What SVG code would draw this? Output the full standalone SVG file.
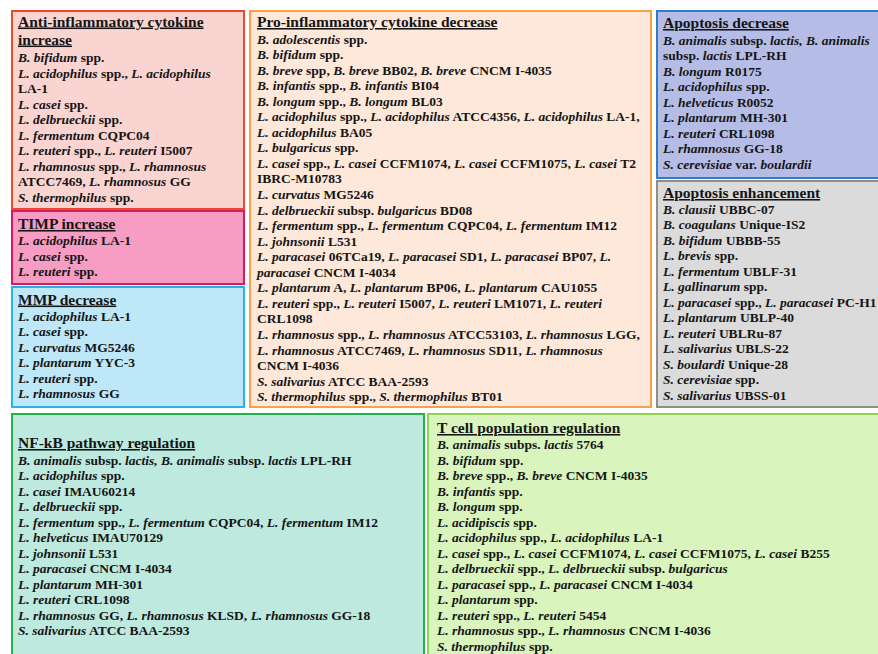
<svg xmlns="http://www.w3.org/2000/svg" width="878" height="654" viewBox="0 0 878 654">
<style>
text{font-family:"Liberation Serif","Times New Roman",serif;font-weight:bold;font-size:13.5px;fill:#151515}
.i{font-style:italic}
.t{font-size:15.5px;text-decoration:underline}
rect{stroke-width:2}
</style>
<rect width="878" height="654" fill="#ffffff"/>
<g id="anti-inflammatory">
<rect x="12" y="11" width="232" height="198" fill="#f9d4d0" stroke="#ec4a2c"/>
<text x="18" y="26.5" class="t">Anti-inflammatory cytokine</text>
<text x="18" y="44.5" class="t">increase</text>
<text x="18" y="62"><tspan class="i">B. bifidum</tspan> spp.</text>
<text x="18" y="77.5"><tspan class="i">L. acidophilus</tspan> spp., <tspan class="i">L. acidophilus</tspan></text>
<text x="18" y="93">LA-1</text>
<text x="18" y="108.5"><tspan class="i">L. casei</tspan> spp.</text>
<text x="18" y="124"><tspan class="i">L. delbrueckii</tspan> spp.</text>
<text x="18" y="139.5"><tspan class="i">L. fermentum</tspan> CQPC04</text>
<text x="18" y="155"><tspan class="i">L. reuteri</tspan> spp., <tspan class="i">L. reuteri</tspan> I5007</text>
<text x="18" y="170.5"><tspan class="i">L. rhamnosus</tspan> spp., <tspan class="i">L. rhamnosus</tspan></text>
<text x="18" y="186">ATCC7469, <tspan class="i">L. rhamnosus</tspan> GG</text>
<text x="18" y="201.5"><tspan class="i">S. thermophilus</tspan> spp.</text>
</g>
<g id="timp">
<rect x="12" y="211" width="232" height="73" fill="#f79cc2" stroke="#d71a62"/>
<text x="18" y="229" class="t">TIMP increase</text>
<text x="18" y="245"><tspan class="i">L. acidophilus</tspan> LA-1</text>
<text x="18" y="260.5"><tspan class="i">L. casei</tspan> spp.</text>
<text x="18" y="276"><tspan class="i">L. reuteri</tspan>  spp.</text>
</g>
<g id="mmp">
<rect x="12" y="287" width="232" height="120" fill="#bee7f7" stroke="#29b4e9"/>
<text x="18" y="304.5" class="t">MMP decrease</text>
<text x="18" y="320.5"><tspan class="i">L. acidophilus</tspan> LA-1</text>
<text x="18" y="336"><tspan class="i">L. casei</tspan> spp.</text>
<text x="18" y="351.5"><tspan class="i">L. curvatus</tspan> MG5246</text>
<text x="18" y="367"><tspan class="i">L. plantarum</tspan> YYC-3</text>
<text x="18" y="382.5"><tspan class="i">L. reuteri</tspan> spp.</text>
<text x="18" y="398"><tspan class="i">L. rhamnosus</tspan> GG</text>
</g>
<g id="pro-inflammatory">
<rect x="250" y="11" width="401" height="396" fill="#fde8da" stroke="#f8a14a"/>
<text x="257" y="27" class="t">Pro-inflammatory cytokine decrease</text>
<text x="257" y="43.5"><tspan class="i">B. adolescentis</tspan> spp.</text>
<text x="257" y="59"><tspan class="i">B. bifidum</tspan> spp.</text>
<text x="257" y="74.6"><tspan class="i">B. breve</tspan> spp, <tspan class="i">B. breve</tspan> BB02, <tspan class="i">B. breve</tspan> CNCM I-4035</text>
<text x="257" y="90.1"><tspan class="i">B. infantis</tspan> spp., <tspan class="i">B. infantis</tspan> BI04</text>
<text x="257" y="105.7"><tspan class="i">B. longum</tspan> spp., <tspan class="i">B. longum</tspan> BL03</text>
<text x="257" y="121.2"><tspan class="i">L. acidophilus</tspan> spp., <tspan class="i">L. acidophilus</tspan> ATCC4356, <tspan class="i">L. acidophilus</tspan> LA-1,</text>
<text x="257" y="136.8"><tspan class="i">L. acidophilus</tspan> BA05</text>
<text x="257" y="152.3"><tspan class="i">L. bulgaricus</tspan> spp.</text>
<text x="257" y="167.9"><tspan class="i">L. casei</tspan> spp., <tspan class="i">L. casei</tspan> CCFM1074, <tspan class="i">L. casei</tspan> CCFM1075, <tspan class="i">L. casei</tspan> T2</text>
<text x="257" y="183.4">IBRC-M10783</text>
<text x="257" y="199"><tspan class="i">L. curvatus</tspan> MG5246</text>
<text x="257" y="214.5"><tspan class="i">L. delbrueckii</tspan> subsp. <tspan class="i">bulgaricus</tspan> BD08</text>
<text x="257" y="230.1"><tspan class="i">L. fermentum</tspan> spp., <tspan class="i">L. fermentum</tspan> CQPC04, <tspan class="i">L. fermentum</tspan> IM12</text>
<text x="257" y="245.6"><tspan class="i">L. johnsonii</tspan> L531</text>
<text x="257" y="261.2"><tspan class="i">L. paracasei</tspan> 06TCa19, <tspan class="i">L. paracasei</tspan> SD1, <tspan class="i">L. paracasei</tspan> BP07, <tspan class="i">L.</tspan></text>
<text x="257" y="276.7"><tspan class="i">paracasei</tspan> CNCM I-4034</text>
<text x="257" y="292.3"><tspan class="i">L. plantarum</tspan> A, <tspan class="i">L. plantarum</tspan> BP06, <tspan class="i">L. plantarum</tspan> CAU1055</text>
<text x="257" y="307.8"><tspan class="i">L. reuteri</tspan> spp., <tspan class="i">L. reuteri</tspan> I5007, <tspan class="i">L. reuteri</tspan>  LM1071, <tspan class="i">L. reuteri</tspan></text>
<text x="257" y="323.4">CRL1098</text>
<text x="257" y="338.9"><tspan class="i">L. rhamnosus</tspan> spp., <tspan class="i">L. rhamnosus</tspan> ATCC53103, <tspan class="i">L. rhamnosus</tspan> LGG,</text>
<text x="257" y="354.5"><tspan class="i">L. rhamnosus</tspan> ATCC7469, <tspan class="i">L. rhamnosus</tspan> SD11, <tspan class="i">L. rhamnosus</tspan></text>
<text x="257" y="370">CNCM I-4036</text>
<text x="257" y="385.6"><tspan class="i">S. salivarius</tspan> ATCC BAA-2593</text>
<text x="257" y="401.1"><tspan class="i">S. thermophilus</tspan> spp., <tspan class="i">S. thermophilus</tspan> BT01</text>
</g>
<g id="apoptosis-decrease">
<rect x="657" y="11" width="230" height="167" fill="#b5bde6" stroke="#2e7bc6"/>
<text x="663" y="28" class="t">Apoptosis decrease</text>
<text x="663" y="44.5"><tspan class="i">B. animalis</tspan> subsp. <tspan class="i">lactis, B. animalis</tspan></text>
<text x="663" y="60">subsp. <tspan class="i">lactis</tspan> LPL-RH</text>
<text x="663" y="75.5"><tspan class="i">B. longum</tspan> R0175</text>
<text x="663" y="91"><tspan class="i">L. acidophilus</tspan> spp.</text>
<text x="663" y="106.5"><tspan class="i">L. helveticus</tspan> R0052</text>
<text x="663" y="122"><tspan class="i">L. plantarum</tspan> MH-301</text>
<text x="663" y="137.5"><tspan class="i">L. reuteri</tspan> CRL1098</text>
<text x="663" y="153"><tspan class="i">L. rhamnosus</tspan>  GG-18</text>
<text x="663" y="168.5"><tspan class="i">S. cerevisiae</tspan> var. <tspan class="i">boulardii</tspan></text>
</g>
<g id="apoptosis-enhancement">
<rect x="657" y="181" width="230" height="226" fill="#dbdbdb" stroke="#8d8d8d"/>
<text x="663" y="198" class="t">Apoptosis enhancement</text>
<text x="663" y="213.5"><tspan class="i">B. clausii</tspan> UBBC-07</text>
<text x="663" y="229"><tspan class="i">B. coagulans</tspan> Unique-IS2</text>
<text x="663" y="244.5"><tspan class="i">B. bifidum</tspan> UBBB-55</text>
<text x="663" y="260"><tspan class="i">L. brevis</tspan> spp.</text>
<text x="663" y="275.5"><tspan class="i">L. fermentum</tspan> UBLF-31</text>
<text x="663" y="291"><tspan class="i">L. gallinarum</tspan> spp.</text>
<text x="663" y="306.5"><tspan class="i">L. paracasei</tspan> spp., <tspan class="i">L. paracasei</tspan> PC-H1</text>
<text x="663" y="322"><tspan class="i">L. plantarum</tspan> UBLP-40</text>
<text x="663" y="337.5"><tspan class="i">L. reuteri</tspan> UBLRu-87</text>
<text x="663" y="353"><tspan class="i">L. salivarius</tspan> UBLS-22</text>
<text x="663" y="368.5"><tspan class="i">S. boulardi</tspan> Unique-28</text>
<text x="663" y="384"><tspan class="i">S. cerevisiae</tspan> spp.</text>
<text x="663" y="399.5"><tspan class="i">S. salivarius</tspan> UBSS-01</text>
</g>
<g id="nf-kb">
<rect x="12" y="414" width="412" height="250" fill="#bde9df" stroke="#22b24d"/>
<text x="18" y="448" class="t">NF-kB pathway regulation</text>
<text x="18" y="464.5"><tspan class="i">B. animalis</tspan> subsp. <tspan class="i">lactis, B. animalis</tspan> subsp. <tspan class="i">lactis</tspan> LPL-RH</text>
<text x="18" y="480"><tspan class="i">L. acidophilus</tspan> spp.</text>
<text x="18" y="495.5"><tspan class="i">L. casei</tspan> IMAU60214</text>
<text x="18" y="511"><tspan class="i">L. delbrueckii</tspan> spp.</text>
<text x="18" y="526.5"><tspan class="i">L. fermentum</tspan> spp., <tspan class="i">L. fermentum</tspan> CQPC04, <tspan class="i">L. fermentum</tspan> IM12</text>
<text x="18" y="542"><tspan class="i">L. helveticus</tspan> IMAU70129</text>
<text x="18" y="557.5"><tspan class="i">L. johnsonii</tspan> L531</text>
<text x="18" y="573"><tspan class="i">L. paracasei</tspan> CNCM I-4034</text>
<text x="18" y="588.5"><tspan class="i">L. plantarum</tspan> MH-301</text>
<text x="18" y="604"><tspan class="i">L. reuteri</tspan> CRL1098</text>
<text x="18" y="619.5"><tspan class="i">L. rhamnosus</tspan>  GG, <tspan class="i">L. rhamnosus</tspan> KLSD, <tspan class="i">L. rhamnosus</tspan> GG-18</text>
<text x="18" y="635"><tspan class="i">S. salivarius</tspan> ATCC BAA-2593</text>
</g>
<g id="t-cell">
<rect x="428" y="414" width="460" height="250" fill="#d9f5bd" stroke="#93d152"/>
<text x="437" y="433" class="t">T cell population regulation</text>
<text x="437" y="449"><tspan class="i">B. animalis</tspan> subps. <tspan class="i">lactis</tspan> 5764</text>
<text x="437" y="464.5"><tspan class="i">B. bifidum</tspan> spp.</text>
<text x="437" y="480"><tspan class="i">B. breve</tspan> spp., <tspan class="i">B. breve</tspan> CNCM I-4035</text>
<text x="437" y="495.5"><tspan class="i">B. infantis</tspan> spp.</text>
<text x="437" y="511"><tspan class="i">B. longum</tspan> spp.</text>
<text x="437" y="526.5"><tspan class="i">L. acidipiscis</tspan> spp.</text>
<text x="437" y="542"><tspan class="i">L. acidophilus</tspan> spp., <tspan class="i">L. acidophilus</tspan> LA-1</text>
<text x="437" y="557.5"><tspan class="i">L. casei</tspan> spp., <tspan class="i">L. casei</tspan> CCFM1074, <tspan class="i">L. casei</tspan> CCFM1075, <tspan class="i">L. casei</tspan> B255</text>
<text x="437" y="573"><tspan class="i">L. delbrueckii</tspan> spp., <tspan class="i">L. delbrueckii</tspan> subsp. <tspan class="i">bulgaricus</tspan></text>
<text x="437" y="588.5"><tspan class="i">L. paracasei</tspan> spp., <tspan class="i">L. paracasei</tspan> CNCM I-4034</text>
<text x="437" y="604"><tspan class="i">L. plantarum</tspan> spp.</text>
<text x="437" y="619.5"><tspan class="i">L. reuteri</tspan> spp., <tspan class="i">L. reuteri</tspan> 5454</text>
<text x="437" y="635"><tspan class="i">L. rhamnosus</tspan> spp., <tspan class="i">L. rhamnosus</tspan> CNCM I-4036</text>
<text x="437" y="650.5"><tspan class="i">S. thermophilus</tspan> spp.</text>
</g>
<g id="connectors"/>
</svg>
